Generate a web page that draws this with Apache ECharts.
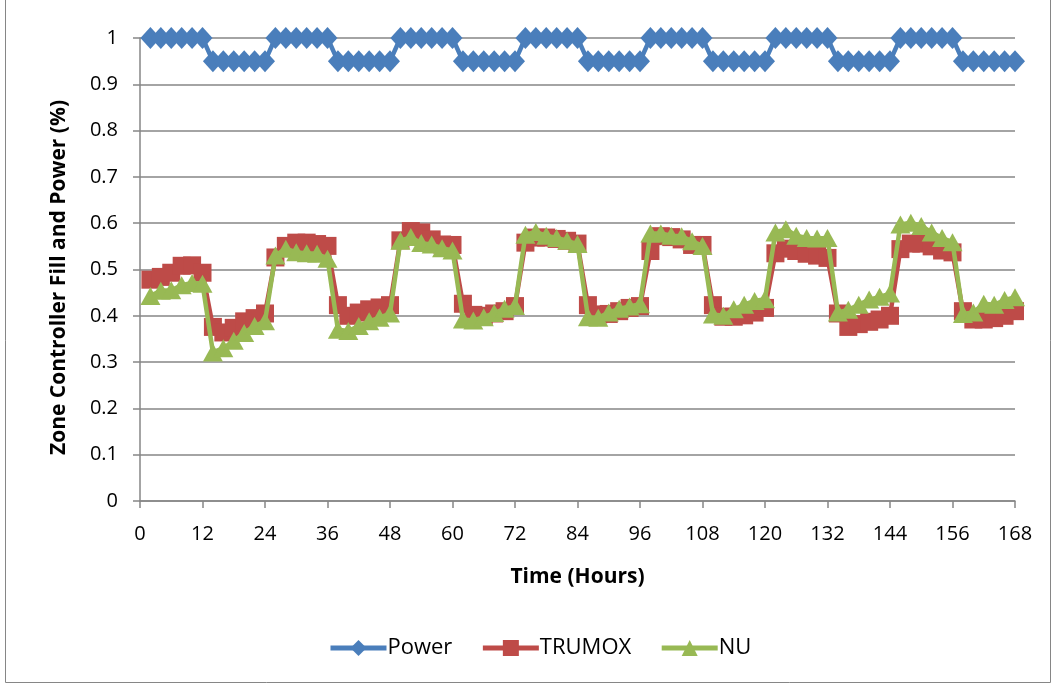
<!DOCTYPE html>
<html>
<head>
<meta charset="utf-8">
<title>Zone Controller Fill and Power</title>
<script src="https://cdn.jsdelivr.net/npm/echarts@6/dist/echarts.min.js"></script>
<style>
  html, body { margin: 0; padding: 0; background: #ffffff; }
  #chart { width: 1053px; height: 684px; }
</style>
</head>
<body>
<div id="chart"></div>
<script>
// Sample times (hours), every 2 hours over one week
const hours = [
  2, 4, 6, 8, 10, 12, 14, 16, 18, 20, 22, 24,
  26, 28, 30, 32, 34, 36, 38, 40, 42, 44, 46, 48,
  50, 52, 54, 56, 58, 60, 62, 64, 66, 68, 70, 72,
  74, 76, 78, 80, 82, 84, 86, 88, 90, 92, 94, 96,
  98, 100, 102, 104, 106, 108, 110, 112, 114, 116, 118, 120,
  122, 124, 126, 128, 130, 132, 134, 136, 138, 140, 142, 144,
  146, 148, 150, 152, 154, 156, 158, 160, 162, 164, 166, 168
];

// Reactor power fraction
const power = [
  1, 1, 1, 1, 1, 1, 0.95, 0.95, 0.95, 0.95, 0.95, 0.95,
  1, 1, 1, 1, 1, 1, 0.95, 0.95, 0.95, 0.95, 0.95, 0.95,
  1, 1, 1, 1, 1, 1, 0.95, 0.95, 0.95, 0.95, 0.95, 0.95,
  1, 1, 1, 1, 1, 1, 0.95, 0.95, 0.95, 0.95, 0.95, 0.95,
  1, 1, 1, 1, 1, 1, 0.95, 0.95, 0.95, 0.95, 0.95, 0.95,
  1, 1, 1, 1, 1, 1, 0.95, 0.95, 0.95, 0.95, 0.95, 0.95,
  1, 1, 1, 1, 1, 1, 0.95, 0.95, 0.95, 0.95, 0.95, 0.95
];

// Zone controller fill, TRUMOX core
const trumox = [
  0.478, 0.484, 0.493, 0.508, 0.509, 0.493, 0.376, 0.364, 0.374, 0.388, 0.395, 0.405,
  0.526, 0.551, 0.558, 0.558, 0.555, 0.551, 0.423, 0.400, 0.407, 0.414, 0.418, 0.423,
  0.563, 0.583, 0.580, 0.565, 0.554, 0.553, 0.426, 0.402, 0.400, 0.405, 0.410, 0.421,
  0.558, 0.569, 0.569, 0.566, 0.562, 0.556, 0.423, 0.403, 0.404, 0.410, 0.417, 0.421,
  0.540, 0.572, 0.570, 0.565, 0.553, 0.553, 0.423, 0.398, 0.398, 0.401, 0.407, 0.417,
  0.535, 0.545, 0.540, 0.534, 0.530, 0.525, 0.405, 0.376, 0.382, 0.387, 0.392, 0.400,
  0.544, 0.556, 0.556, 0.550, 0.541, 0.537, 0.410, 0.392, 0.392, 0.395, 0.400, 0.410
];

// Zone controller fill, natural uranium core
const nu = [
  0.443, 0.454, 0.455, 0.466, 0.471, 0.469, 0.321, 0.330, 0.346, 0.363, 0.378, 0.388,
  0.530, 0.545, 0.537, 0.535, 0.534, 0.523, 0.370, 0.367, 0.378, 0.388, 0.396, 0.405,
  0.562, 0.570, 0.557, 0.554, 0.546, 0.541, 0.392, 0.390, 0.397, 0.406, 0.415, 0.421,
  0.575, 0.581, 0.573, 0.568, 0.562, 0.555, 0.397, 0.396, 0.407, 0.415, 0.420, 0.425,
  0.578, 0.578, 0.573, 0.572, 0.561, 0.551, 0.403, 0.400, 0.414, 0.424, 0.432, 0.436,
  0.580, 0.587, 0.573, 0.568, 0.567, 0.568, 0.407, 0.413, 0.424, 0.435, 0.441, 0.448,
  0.597, 0.601, 0.594, 0.580, 0.568, 0.559, 0.404, 0.407, 0.426, 0.424, 0.434, 0.440
];

const xTicks = { min: 0, max: 168, interval: 12 };
const yTicks = { min: 0, max: 1, interval: 0.1 };

const pairs = (vals) => hours.map((h, i) => [h, vals[i]]);

const FONT = '"Open Sans", "Noto Sans", sans-serif';
const AXIS_GRAY = '#868686';

const chart = echarts.init(document.getElementById('chart'), null, { renderer: 'canvas' });

chart.setOption({
  backgroundColor: '#ffffff',
  animation: false,
  textStyle: { fontFamily: FONT, color: '#000000' },
  graphic: [{
    type: 'rect',
    shape: { x: 5.5, y: -1, width: 1045, height: 683.5 },
    style: { fill: 'none', stroke: AXIS_GRAY, lineWidth: 1 },
    silent: true,
    z: -1
  }],
  grid: { left: 140, right: 38, top: 38, bottom: 183, containLabel: false },
  xAxis: {
    type: 'value',
    min: xTicks.min,
    max: xTicks.max,
    interval: xTicks.interval,
    name: 'Time (Hours)',
    nameLocation: 'middle',
    nameGap: 66,
    nameTextStyle: { fontFamily: FONT, fontSize: 21, fontWeight: 'bold', color: '#000' },
    axisLine: { show: true, lineStyle: { color: AXIS_GRAY, width: 1.5 } },
    axisTick: { show: true, inside: false, length: 7, lineStyle: { color: AXIS_GRAY, width: 1.5 } },
    axisLabel: { fontFamily: FONT, fontSize: 20, color: '#000', margin: 23 },
    splitLine: { show: false }
  },
  yAxis: {
    type: 'value',
    min: yTicks.min,
    max: yTicks.max,
    interval: yTicks.interval,
    name: 'Zone Controller Fill and Power (%)',
    nameLocation: 'middle',
    nameGap: 70,
    nameRotate: 90,
    nameTextStyle: {
      fontFamily: FONT, fontSize: 21, fontWeight: 'bold', color: '#000',
      padding: [0, 16, 0, 0]
    },
    axisLine: { show: true, lineStyle: { color: AXIS_GRAY, width: 1.5 } },
    axisTick: { show: true, inside: false, length: 7, lineStyle: { color: AXIS_GRAY, width: 1.5 } },
    axisLabel: {
      fontFamily: FONT, fontSize: 20, color: '#000', margin: 22,
      formatter: (v) => String(Math.round(v * 10) / 10)
    },
    splitLine: { show: true, lineStyle: { color: AXIS_GRAY, width: 1.5 } }
  },
  legend: {
    bottom: 20,
    left: 323,
    itemWidth: 56,
    itemHeight: 20,
    itemGap: 28,
    lineStyle: { width: 5 },
    textStyle: { fontFamily: FONT, fontSize: 22, color: '#000', padding: [0, 0, 0, -4] },
    data: ['Power', 'TRUMOX', 'NU']
  },
  series: [
    {
      name: 'Power',
      type: 'line',
      data: pairs(power),
      symbol: 'diamond',
      symbolSize: [20, 22],
      showAllSymbol: true,
      lineStyle: { color: '#4a7ebb', width: 4.5 },
      itemStyle: { color: '#4a7ebb', borderWidth: 0 },
      z: 2
    },
    {
      name: 'TRUMOX',
      type: 'line',
      data: pairs(trumox),
      symbol: 'rect',
      symbolSize: 18,
      showAllSymbol: true,
      lineStyle: { color: '#be4b48', width: 4.5 },
      itemStyle: { color: '#be4b48', borderWidth: 0 },
      z: 3
    },
    {
      name: 'NU',
      type: 'line',
      data: pairs(nu),
      symbol: 'triangle',
      symbolSize: [20, 18],
      showAllSymbol: true,
      lineStyle: { color: '#98b954', width: 4.5 },
      itemStyle: { color: '#98b954', borderWidth: 0 },
      z: 4
    }
  ]
});
</script>
</body>
</html>
